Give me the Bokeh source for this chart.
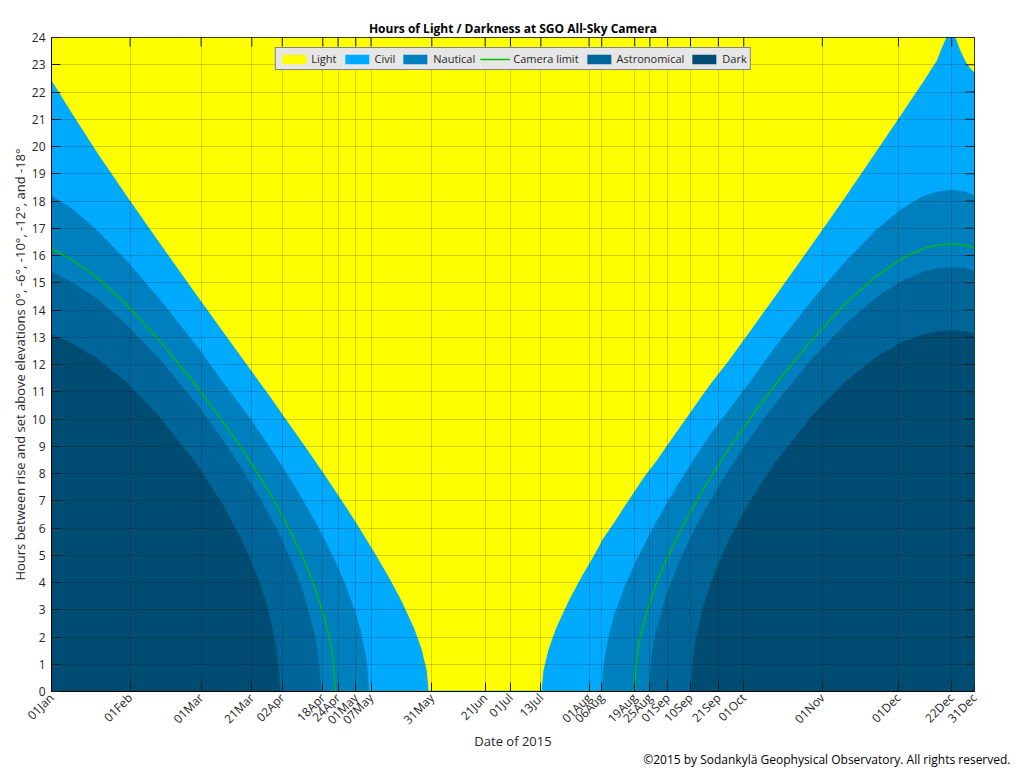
import math
from bokeh.plotting import figure
from bokeh.models import Legend, LegendItem, Title, Range1d, FixedTicker
from bokeh.embed import file_html
from bokeh.resources import INLINE

# ---------------- data (day of year 2015 -> hours) ----------------
tick_days = [1, 32, 60, 80, 92, 108, 114, 121, 127, 151, 172, 182, 194, 213,
             218, 231, 237, 244, 253, 264, 274, 305, 335, 356, 365]
tick_labels = ["01Jan", "01Feb", "01Mar", "21Mar", "02Apr", "18Apr", "24Apr",
               "01May", "07May", "31May", "21Jun", "01Jul", "13Jul", "01Aug",
               "06Aug", "19Aug", "25Aug", "01Sep", "10Sep", "21Sep", "01Oct",
               "01Nov", "01Dec", "22Dec", "31Dec"]
hour_ticks = list(range(0, 25))

civil_days = [1, 9.5, 19, 31, 44, 59, 69, 77, 83, 87, 90, 93, 97, 101, 105, 109,
              113, 117, 121, 125, 129, 134, 139, 144, 147, 149, 149.7,
              194.2, 195, 197, 200, 205, 210, 215, 218.5, 223, 227, 231, 235,
              239.5, 243.5, 247.5, 251.5, 254.5, 257.5, 261.5, 268, 276, 286,
              301, 314, 326, 336, 345, 350.2, 352, 353.9, 357.5, 359.4, 362, 365]
civil_hours = [22.42, 21.16, 19.78, 18.14, 16.41, 14.45, 13.16, 12.13, 11.36,
               10.84, 10.45, 10.05, 9.52, 8.99, 8.45, 7.91, 7.35, 6.79, 6.21,
               5.61, 5.00, 4.20, 3.33, 2.32, 1.54, 0.76, 0.0,
               0.0, 0.76, 1.54, 2.32, 3.33, 4.20, 5.00, 5.61, 6.21, 6.79, 7.35,
               7.91, 8.45, 8.99, 9.52, 10.05, 10.45, 10.84, 11.36, 12.13, 13.16,
               14.45, 16.41, 18.14, 19.78, 21.16, 22.40, 23.16, 23.6, 24.0,
               24.0, 23.52, 23.03, 22.70]

naut_days = [1, 9.5, 19, 31, 44, 59, 69, 77, 83, 87, 90, 93, 97, 101, 105, 109,
             113, 117, 121, 123, 125, 125.7, 126.1,
             218.1, 218.5, 219.2, 221.2, 223.2, 227.3, 231.4, 235.5, 239.5,
             243.5, 247.5, 251.5, 254.5, 257.5, 261.5, 268, 276, 286, 301, 314,
             326, 336, 345, 351, 356, 361, 365]
naut_hours = [18.19, 17.70, 16.93, 15.78, 14.37, 12.60, 11.30, 10.33, 9.53,
              8.97, 8.55, 8.11, 7.52, 6.89, 6.23, 5.53, 4.77, 3.91, 2.88, 2.22,
              1.30, 0.78, 0.0,
              0.0, 0.78, 1.30, 2.22, 2.88, 3.91, 4.77, 5.53, 6.23, 6.89, 7.52,
              8.11, 8.55, 8.97, 9.53, 10.33, 11.30, 12.60, 14.37, 15.78, 16.93,
              17.70, 18.19, 18.36, 18.41, 18.36, 18.22]

camera_days = [1, 8.5, 18.5, 30.3, 43.2, 58.2, 68.2, 76.2, 82.2, 86.2, 89.2,
               92.2, 96.2, 100.2, 104.2, 108.2, 110.4, 111.4, 112.2, 113.0,
               231.0, 231.5, 232.3, 233.3, 235.5, 239.6, 243.8, 247.9, 252,
               255, 258, 262, 268, 276, 286, 301, 314, 326, 336, 345, 351, 356,
               361, 365]
camera_hours = [16.26, 15.87, 15.23, 14.22, 12.92, 11.21, 9.96, 8.89, 8.02,
                7.41, 6.93, 6.42, 5.70, 4.90, 3.98, 2.83, 2.06, 1.55, 0.96, 0.0,
                0.0, 0.96, 1.55, 2.06, 2.83, 3.98, 4.90, 5.70, 6.42, 6.93, 7.41,
                8.02, 8.89, 9.96, 11.21, 12.92, 14.22, 15.23, 15.87, 16.26,
                16.39, 16.43, 16.39, 16.29]

astro_days = [1, 8.5, 18.5, 30.5, 43.5, 58.5, 68.5, 76.5, 82.5, 86.5, 89.5,
              92.5, 96.5, 100.5, 104.5, 105.5, 106.5, 107.0, 107.4,
              236.8, 237.0, 237.4, 238.4, 239.4, 243.6, 247.8, 251.9, 255, 258,
              262, 268, 276, 286, 301, 314, 326, 336, 345, 351, 356, 361, 365]
astro_hours = [15.42, 15.05, 14.45, 13.48, 12.22, 10.52, 9.25, 8.13, 7.21,
               6.55, 6.01, 5.44, 4.60, 3.59, 2.23, 1.75, 1.06, 0.61, 0.0,
               0.0, 0.61, 1.06, 1.75, 2.23, 3.59, 4.60, 5.44, 6.01, 6.55, 7.21,
               8.13, 9.25, 10.52, 12.22, 13.48, 14.45, 15.05, 15.42, 15.54,
               15.57, 15.54, 15.44]

dark_days = [1, 8.5, 18.5, 30.3, 43.2, 58.2, 68.2, 76.2, 82.2, 86.2, 89.0,
             90.1, 90.7, 91.3,
             253.2, 253.5, 254, 255, 258, 262, 268, 276, 286, 301, 314, 326,
             336, 345, 351, 356, 361, 365]
dark_hours = [13.12, 12.81, 12.26, 11.37, 10.13, 8.36, 6.93, 5.54, 4.24, 3.12,
              1.90, 1.27, 0.78, 0.0,
              0.0, 0.78, 1.27, 1.90, 3.12, 4.24, 5.54, 6.93, 8.36, 10.13,
              11.37, 12.26, 12.81, 13.12, 13.23, 13.26, 13.23, 13.15]

copyright_text = "©2015 by Sodankylä Geophysical Observatory. All rights reserved."

# ---------------- styles ----------------
LIGHT = "#ffff00"
CIVIL = "#00aaff"
NAUT = "#0080bf"
ASTRO = "#006699"
DARK = "#004c73"
CAMERA = "#00c000"
FONT = "Open Sans"
TICK_COLOR = "#222222"
X0, X1, Y0, Y1 = 1, 365, 0, 24
FW, FH = 923, 654

p = figure(frame_width=FW, frame_height=FH,
           x_range=Range1d(X0, X1), y_range=Range1d(Y0, Y1),
           output_backend="svg", toolbar_location=None,
           min_border_left=51, min_border_right=48, min_border_top=37,
           min_border_bottom=0, background_fill_color=LIGHT,
           border_fill_color="white", outline_line_color="black")

p.title.text = "Hours of Light / Darkness at SGO All-Sky Camera"
p.title.align = "center"
p.title.text_font = FONT
p.title.text_font_size = "12px"
p.title.text_font_style = "bold"
p.title.text_color = "black"
p.title.standoff = 2

r_light = p.varea(x=civil_days, y1=civil_hours, y2=[Y1] * len(civil_days),
                  fill_color=LIGHT)
r_civil = p.varea(x=civil_days, y1=[Y0] * len(civil_days), y2=civil_hours,
                  fill_color=CIVIL)
r_naut = p.varea(x=naut_days, y1=[Y0] * len(naut_days), y2=naut_hours,
                 fill_color=NAUT)
r_astro = p.varea(x=astro_days, y1=[Y0] * len(astro_days), y2=astro_hours,
                  fill_color=ASTRO)
r_dark = p.varea(x=dark_days, y1=[Y0] * len(dark_days), y2=dark_hours,
                 fill_color=DARK)
r_cam = p.line(x=camera_days, y=camera_hours, line_color=CAMERA, line_width=1.3)

# tick marks on the top and right edges of the box (inward, ~9 px)
tick_len_y = 9 / (FH / (Y1 - Y0))
tick_len_x = 9 / (FW / (X1 - X0))
p.segment(x0=tick_days, x1=tick_days, y0=[Y1] * len(tick_days),
          y1=[Y1 - tick_len_y] * len(tick_days), line_color=TICK_COLOR,
          line_width=1)
p.segment(x0=[X1] * len(hour_ticks), x1=[X1 - tick_len_x] * len(hour_ticks),
          y0=hour_ticks, y1=hour_ticks, line_color=TICK_COLOR, line_width=1)

# axes
xt = FixedTicker(ticks=tick_days)
yt = FixedTicker(ticks=hour_ticks)
p.xaxis.ticker = xt
p.yaxis.ticker = yt
p.xaxis.major_label_overrides = {d: l for d, l in zip(tick_days, tick_labels)}
p.xaxis.major_label_orientation = math.pi / 4
for ax in (p.xaxis[0], p.yaxis[0]):
    ax.major_tick_in = 9
    ax.major_tick_out = 0
    ax.minor_tick_line_color = None
    ax.axis_line_color = "black"
    ax.major_tick_line_color = TICK_COLOR
    ax.major_label_text_font = FONT
    ax.major_label_text_font_size = "12px"
    ax.major_label_text_color = "#262626"
    ax.axis_label_text_font = FONT
    ax.axis_label_text_font_size = "13px"
    ax.axis_label_text_font_style = "normal"
    ax.axis_label_text_color = "#262626"
p.xaxis.major_label_standoff = 4
p.yaxis.major_label_standoff = 6
p.xaxis.axis_label = "Date of 2015"
p.xaxis.axis_label_standoff = -5
p.yaxis.axis_label = "Hours between rise and set above elevations 0°, -6°, -10°, -12°, and -18°"
p.yaxis.axis_label_standoff = 0

# grid above the areas
p.xgrid.ticker = xt
p.ygrid.ticker = yt
for g in (p.xgrid[0], p.ygrid[0]):
    g.grid_line_color = "black"
    g.grid_line_alpha = 0.18
    g.level = "guide"

legend = Legend(items=[
    LegendItem(label="Light", renderers=[r_light]),
    LegendItem(label="Civil", renderers=[r_civil]),
    LegendItem(label="Nautical", renderers=[r_naut]),
    LegendItem(label="Camera limit", renderers=[r_cam]),
    LegendItem(label="Astronomical", renderers=[r_astro]),
    LegendItem(label="Dark", renderers=[r_dark]),
], orientation="horizontal", location="top_center")
legend.margin = 10
legend.padding = 3
legend.spacing = 5
legend.glyph_width = 30
legend.glyph_height = 12
legend.label_standoff = 3
legend.label_height = 12
legend.label_text_font = FONT
legend.label_text_font_size = "11px"
legend.label_text_color = "#262626"
legend.border_line_color = TICK_COLOR
legend.background_fill_color = "#e6e6e6"
legend.background_fill_alpha = 1
p.add_layout(legend)

# copyright note below the x axis, right aligned near the page edge
p.add_layout(Title(text=copyright_text, align="right", vertical_align="top",
                   text_font=FONT, text_font_size="12px",
                   text_font_style="normal", text_color="black", standoff=-4,
                   offset=-36),
             "below")

open("out.html", "w").write(file_html(p, INLINE))
